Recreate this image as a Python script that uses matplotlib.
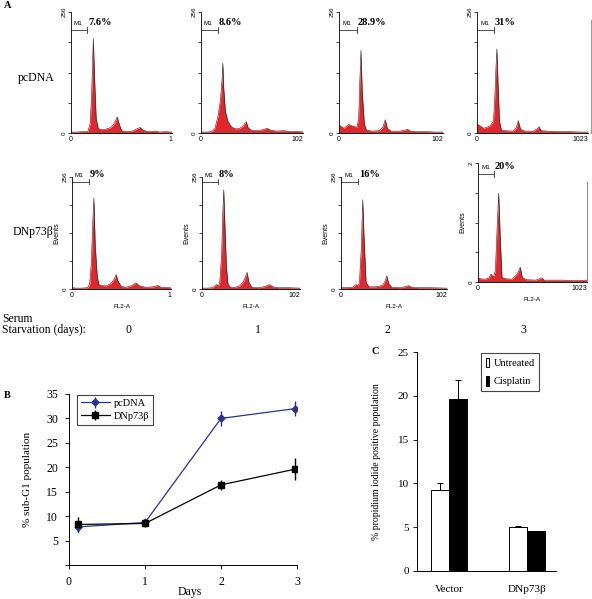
import numpy as np
import matplotlib
matplotlib.use("Agg")
import matplotlib.pyplot as plt

# ---- data ----
# panel A: flow histograms (FL2-A channel 0..1023, events 0..256)
pc0_x = [0, 60, 120, 170, 195, 210, 226, 240, 255, 276, 300, 350, 400, 440, 468, 490, 512, 560, 620, 670, 698, 730, 780, 850, 900, 950, 1023]
pc0_y = [2, 2, 3, 3, 20, 90, 200, 110, 30, 10, 7, 8, 11, 20, 34, 18, 5, 3, 4, 9, 12, 6, 3, 4, 2, 3, 2]
pc1_x = [0, 60, 110, 140, 170, 195, 210, 219, 228, 245, 270, 300, 340, 380, 420, 445, 455, 470, 500, 560, 620, 664, 700, 760, 830, 900, 960, 1023]
pc1_y = [2, 2, 3, 10, 35, 70, 110, 148, 95, 45, 25, 14, 9, 9, 14, 22, 24, 12, 6, 5, 7, 10, 6, 4, 5, 3, 4, 2]
pc2_x = [0, 20, 50, 93, 130, 176, 193, 205, 216, 228, 249, 270, 330, 400, 430, 455, 475, 510, 600, 650, 674, 700, 760, 850, 950, 1023]
pc2_y = [17, 14, 10, 18, 15, 12, 30, 110, 175, 90, 20, 6, 4, 5, 12, 28, 10, 4, 4, 6, 8, 4, 3, 3, 2, 2]
pc3_x = [0, 30, 60, 90, 120, 152, 165, 175, 183, 193, 207, 225, 260, 330, 360, 381, 400, 440, 520, 555, 573, 590, 650, 750, 850, 950, 1023]
pc3_y = [19, 15, 10, 12, 15, 25, 80, 140, 178, 110, 25, 6, 5, 4, 10, 26, 8, 4, 4, 9, 13, 5, 4, 3, 3, 2, 2]

dn0_x = [0, 40, 100, 160, 182, 200, 214, 226, 240, 260, 278, 300, 350, 400, 440, 456, 475, 510, 560, 620, 662, 700, 760, 840, 881, 920, 1023]
dn0_y = [3, 2, 2, 3, 10, 60, 150, 208, 100, 30, 10, 8, 7, 12, 24, 33, 18, 6, 4, 8, 14, 7, 4, 5, 8, 4, 3]
dn1_x = [0, 60, 110, 150, 170, 185, 205, 218, 227, 240, 255, 272, 300, 350, 400, 440, 471, 490, 520, 600, 660, 705, 740, 800, 900, 1023]
dn1_y = [2, 2, 3, 10, 6, 15, 80, 180, 227, 140, 50, 10, 4, 4, 8, 20, 38, 15, 4, 3, 6, 10, 5, 3, 3, 2]
dn2_x = [0, 60, 110, 145, 165, 178, 195, 210, 222, 242, 270, 330, 400, 425, 442, 460, 490, 580, 630, 652, 680, 750, 850, 1023]
dn2_y = [3, 3, 4, 10, 7, 15, 90, 204, 120, 15, 5, 5, 8, 18, 30, 12, 4, 3, 6, 8, 4, 3, 3, 2]
dn3_x = [0, 20, 60, 100, 122, 145, 163, 180, 194, 208, 225, 260, 320, 370, 397, 415, 450, 540, 580, 601, 620, 700, 800, 900, 1023]
dn3_y = [10, 7, 6, 8, 17, 10, 25, 120, 191, 100, 10, 7, 6, 18, 32, 10, 5, 4, 7, 9, 4, 4, 4, 3, 4]

pc_pct = ["7.6%", "8.6%", "28.9%", "31%"]
dn_pct = ["9%", "8%", "16%", "20%"]
right_labels = ["1", "102", "102", "1023"]
pc_m1_end = [162, 170, 177, 157]
dn_m1_end = [176, 167, 164, 150]
starvation_days = ["0", "1", "2", "3"]

# panel B: % sub-G1
days = [0.12, 1.0, 2.0, 2.97]
pc_vals = [7.8, 8.7, 30.0, 32.0]
pc_err = [1.0, 0.5, 1.5, 1.5]
dn_vals = [8.3, 8.5, 16.4, 19.6]
dn_err = [1.5, 0.8, 1.0, 2.2]

# panel C: PI positive
groups = ["Vector", "DNp73\u03b2"]
untreated = [9.3, 5.0]
untreated_err = [0.7, 0.1]
cisplatin = [19.6, 4.6]
cisplatin_err = [2.2, 0.0]

SERIF = "Liberation Serif"
SANS = "Liberation Sans"
RED = "#e3262b"

W, H = 592, 599
fig = plt.figure(figsize=(W / 100, H / 100), dpi=100)


def px_axes(l, t, r, b):
    return fig.add_axes([l / W, 1 - b / H, (r - l) / W, (b - t) / H])


def ftext(x, y, s, **kw):
    fig.text(x / W, 1 - y / H, s, **kw)


def draw_hist(ax, xs, ys, right_label, m1_end, m1_y, pct, top_label="256", events=False):
    ax.fill_between(xs, ys, color=RED, lw=0)
    ax.plot(xs, ys, color="#222222", lw=0.4)
    ax.set_xlim(0, 1023)
    ax.set_ylim(0, 256)
    ax.spines["top"].set_visible(False)
    ax.spines["right"].set_visible(False)
    ax.spines["left"].set_linewidth(0.6)
    ax.spines["bottom"].set_linewidth(0.6)
    ax.set_yticks([0, 64, 128, 192, 256])
    ax.set_yticklabels(["0", "", "", "", top_label], family=SANS, fontsize=4.5, rotation=90, va="center")
    ax.set_xticks([0, 1023])
    ax.set_xticklabels(["0", right_label], family=SANS, fontsize=5)
    ax.get_xticklabels()[1].set_horizontalalignment("right")
    ax.tick_params(axis="y", length=2, width=0.5, pad=1)
    ax.tick_params(axis="x", length=0, pad=2)
    # M1 marker
    ax.plot([0, m1_end], [m1_y, m1_y], color="#333333", lw=0.6, clip_on=False)
    ax.plot([m1_end, m1_end], [m1_y - 6, m1_y + 6], color="#333333", lw=0.6, clip_on=False)
    ax.text(30, m1_y + 8, "M1", family=SANS, fontsize=4.5, va="bottom", ha="left", clip_on=False)
    ax.text(m1_end + 10, m1_y + 6, pct, family=SERIF, fontsize=7.5, fontweight="bold",
            va="bottom", ha="left", clip_on=False)
    if events:
        ax.set_xlabel("FL2-A", family=SANS, fontsize=4.5, labelpad=4)
        ax.set_ylabel("Events", family=SANS, fontsize=5, labelpad=2)


row1_boxes = [(71, 12, 172, 133), (201, 12, 303, 133), (339, 12, 443, 133), (477, 12, 588, 133)]
row2_boxes = [(72, 177, 171, 289), (202, 177, 300, 289), (341, 177, 447, 289), (478, 163, 587, 282)]
pc_series = [(pc0_x, pc0_y), (pc1_x, pc1_y), (pc2_x, pc2_y), (pc3_x, pc3_y)]
dn_series = [(dn0_x, dn0_y), (dn1_x, dn1_y), (dn2_x, dn2_y), (dn3_x, dn3_y)]

for i in range(4):
    ax = px_axes(*row1_boxes[i])
    draw_hist(ax, pc_series[i][0], pc_series[i][1], right_labels[i], pc_m1_end[i], 218, pc_pct[i])
    if i == 3:
        ax.plot([1050, 1050], [0, 240], color="#999999", lw=0.7, clip_on=False)
for i in range(4):
    ax = px_axes(*row2_boxes[i])
    top = "2" if i == 3 else "256"
    m1y = 232 if i == 3 else 245
    draw_hist(ax, dn_series[i][0], dn_series[i][1], right_labels[i], dn_m1_end[i], m1y, dn_pct[i],
              top_label=top, events=True)
    if i == 3:
        ax.plot([1023, 1023], [0, 215], color="#888888", lw=0.7, clip_on=False)

ftext(4, 6, "A", family=SERIF, fontsize=7.5, fontweight="bold", va="center")
ftext(18, 78, "pcDNA", family=SERIF, fontsize=8.5, va="center")
ftext(13, 232, "DNp73\u03b2", family=SERIF, fontsize=8.5, va="center")
ftext(2, 319, "Serum", family=SERIF, fontsize=8.5, va="center")
ftext(2, 330, "Starvation (days):", family=SERIF, fontsize=8.5, va="center")
for x, d in zip([128, 258, 387, 523], starvation_days):
    ftext(x, 330, d, family=SERIF, fontsize=8.5, va="center", ha="center")

# ---- B ----
ftext(4, 395, "B", family=SERIF, fontsize=7.5, fontweight="bold", va="center")
axb = px_axes(69, 394, 297, 565)
axb.errorbar(days, pc_vals, yerr=pc_err, color="#2e3192", marker="D", ms=3.5, lw=0.9,
             elinewidth=1.0, capsize=0, label="pcDNA")
axb.errorbar(days, dn_vals, yerr=dn_err, color="black", marker="s", ms=4.5, lw=0.9,
             elinewidth=1.0, capsize=0, label="DNp73\u03b2")
axb.set_xlim(0, 3)
axb.set_ylim(0, 35)
axb.set_yticks(range(0, 36, 5))
axb.set_yticklabels([""] + [str(v) for v in range(5, 36, 5)])
axb.set_xticks([0, 1, 2, 3])
for lab in axb.get_xticklabels() + axb.get_yticklabels():
    lab.set_family(SERIF)
    lab.set_fontsize(8.5)
axb.tick_params(length=3, width=0.6, pad=5)
axb.spines["top"].set_visible(False)
axb.spines["right"].set_visible(False)
axb.spines["left"].set_linewidth(0.7)
axb.spines["bottom"].set_linewidth(0.7)
axb.set_xlabel("Days", family=SERIF, fontsize=8.5)
axb.xaxis.set_label_coords(0.53, -(592 - 565) / (565 - 394), transform=axb.transAxes)
axb.xaxis.label.set_va("center")
axb.set_ylabel("% sub-G1 population", family=SERIF, fontsize=8, labelpad=10)
leg = axb.legend(loc="upper left", bbox_to_anchor=(77 / W, 1 - 395 / H), bbox_transform=fig.transFigure,
                 borderaxespad=0, fancybox=False, framealpha=1, edgecolor="#444444",
                 prop={"family": SERIF, "size": 7.5}, handlelength=2.8, handletextpad=0.4,
                 borderpad=0.35, labelspacing=0.35)
leg.get_frame().set_linewidth(0.8)

# ---- C ----
ftext(371, 352, "C", family=SERIF, fontsize=7.5, fontweight="bold", va="center")
axc = px_axes(417, 352, 556, 571)
pos = np.arange(len(groups))
bw = 0.23
axc.bar(pos - bw / 2, untreated, bw, color="white", edgecolor="black", lw=0.7, label="Untreated",
        yerr=[[0] * len(groups), untreated_err], error_kw=dict(ecolor="black", elinewidth=0.7, capsize=2.5, capthick=0.7))
axc.bar(pos + bw / 2, cisplatin, bw, color="black", edgecolor="black", lw=0.7, label="Cisplatin",
        yerr=[[0] * len(groups), cisplatin_err], error_kw=dict(ecolor="black", elinewidth=0.7, capsize=2.5, capthick=0.7))
axc.set_xlim(-0.41, 1.37)
axc.set_ylim(0, 25)
axc.set_yticks(range(0, 26, 5))
axc.set_xticks(pos)
axc.set_xticklabels(groups)
for lab in axc.get_xticklabels() + axc.get_yticklabels():
    lab.set_family(SERIF)
    lab.set_fontsize(8)
axc.tick_params(axis="y", length=3, width=0.6, pad=3)
axc.tick_params(axis="x", length=0, pad=10)
axc.spines["top"].set_visible(False)
axc.spines["right"].set_visible(False)
axc.spines["left"].set_linewidth(0.7)
axc.spines["bottom"].set_linewidth(0.7)
axc.set_ylabel("% propidium iodide positive population", family=SERIF, fontsize=7, labelpad=12)
legc = axc.legend(loc="upper left", bbox_to_anchor=(481 / W, 1 - 353 / H), bbox_transform=fig.transFigure,
                  borderaxespad=0, fancybox=False, framealpha=1, edgecolor="#444444",
                  prop={"family": SERIF, "size": 7.5}, handlelength=0.35, handleheight=1.0,
                  handletextpad=0.4, borderpad=0.45, labelspacing=0.8)
legc.get_frame().set_linewidth(0.8)

fig.savefig("out.png", dpi=100)
